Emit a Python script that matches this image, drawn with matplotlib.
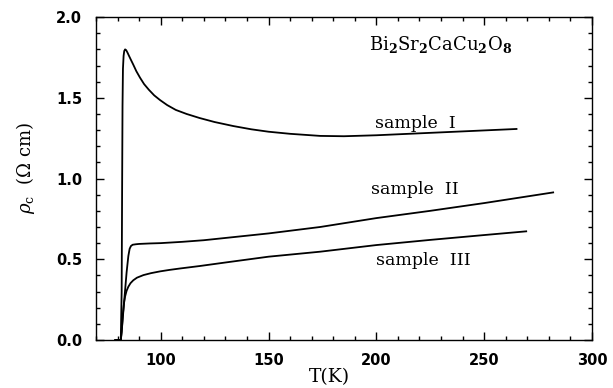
import numpy as np
from matplotlib import pyplot as plt
from matplotlib.ticker import MultipleLocator

# c-axis resistivity of Bi2Sr2CaCu2O8
t_sample1 = [79, 81.5, 81.9, 82.1, 82.3, 82.5, 82.8, 83.1, 83.5, 84.0, 84.6, 85.3, 86.2, 87.3, 88.7, 90.4,
             92.3, 94.5, 97, 99.7, 103, 107, 112, 118, 125, 133.7, 142, 150, 160, 174, 185, 200, 220, 240, 265]
rho_sample1 = [0, 0, 0.3, 0.9, 1.45, 1.68, 1.76, 1.79, 1.80, 1.795, 1.78, 1.76, 1.735, 1.705, 1.665, 1.625,
               1.585, 1.55, 1.515, 1.486, 1.455, 1.425, 1.40, 1.375, 1.35, 1.325, 1.305, 1.29, 1.277, 1.264,
               1.262, 1.268, 1.28, 1.292, 1.307]

t_sample2 = [79, 81.5, 81.9, 83.0, 84.2, 85.0, 85.6, 86.2, 87, 88.5, 90, 95, 100, 110, 120, 130, 150, 174,
             200, 225, 250, 282]
rho_sample2 = [0, 0, 0.05, 0.23, 0.42, 0.52, 0.565, 0.582, 0.59, 0.593, 0.595, 0.598, 0.60, 0.608, 0.618,
               0.632, 0.66, 0.70, 0.755, 0.80, 0.848, 0.914]

t_sample3 = [79, 81.5, 81.9, 82.4, 83.0, 83.5, 84.2, 85.0, 86.0, 87.3, 89.0, 92.0, 95.5, 99.7, 104, 109, 118,
             130, 150, 174, 200, 225, 250, 269.5]
rho_sample3 = [0, 0, 0.05, 0.15, 0.23, 0.27, 0.305, 0.33, 0.352, 0.37, 0.386, 0.402, 0.414, 0.425, 0.434,
               0.443, 0.458, 0.48, 0.516, 0.547, 0.588, 0.62, 0.65, 0.673]

plt.rcParams['mathtext.fontset'] = 'dejavuserif'

fig = plt.figure(figsize=(6.13, 3.88), dpi=100)
ax = fig.add_axes([0.1566, 0.1237, 0.8091, 0.8323])

for t, rho in [(t_sample1, rho_sample1), (t_sample2, rho_sample2), (t_sample3, rho_sample3)]:
    ax.plot(t, rho, color='black', lw=1.3, solid_joinstyle='round')

ax.set_xlim(70, 300)
ax.set_ylim(0, 2.0)
ax.xaxis.set_major_locator(MultipleLocator(50))
ax.xaxis.set_minor_locator(MultipleLocator(10))
ax.yaxis.set_major_locator(MultipleLocator(0.5))
ax.yaxis.set_minor_locator(MultipleLocator(0.1))
ax.yaxis.set_major_formatter(plt.FormatStrFormatter('%.1f'))
ax.tick_params(which='both', direction='in', top=True, right=True, width=1.0)
ax.tick_params(which='major', length=6, labelsize=10.5)
ax.tick_params(axis='y', which='major', pad=10)
ax.tick_params(axis='x', which='major', pad=9)
ax.tick_params(which='minor', length=3)
for lab in ax.get_xticklabels() + ax.get_yticklabels():
    lab.set_fontweight('bold')
for s in ax.spines.values():
    s.set_linewidth(1.0)

ax.set_xlabel('T(K)', family='DejaVu Serif', fontsize=13.5)
ax.xaxis.set_label_coords(0.47, -0.115)
ax.xaxis.label.set_va('center')
ax.set_ylabel(r'$\rho_{\rm c}$  ($\Omega$ cm)', family='DejaVu Serif', fontsize=13)
ax.yaxis.set_label_coords(-0.119, 0.532)

ax.text(229.7, 1.83, r'Bi$_{\bf 2}$Sr$_{\bf 2}$CaCu$_{\bf 2}$O$_{\bf 8}$', family='DejaVu Serif',
        fontsize=13, ha='center', va='center')
ax.text(218, 1.34, 'sample  I', family='DejaVu Serif', fontsize=12.5, ha='center', va='center')
ax.text(218, 0.93, 'sample  II', family='DejaVu Serif', fontsize=12.5, ha='center', va='center')
ax.text(222, 0.49, 'sample  III', family='DejaVu Serif', fontsize=12.5, ha='center', va='center')

fig.savefig('out.png', dpi=100)
